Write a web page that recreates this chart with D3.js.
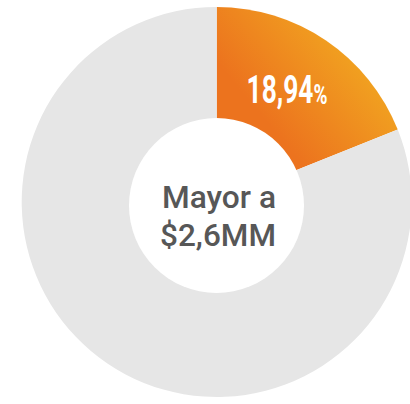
<!DOCTYPE html>
<html>
<head>
  <script src="https://d3js.org/d3.v7.min.js"></script>
  <style>
    body { margin: 0; background: #fff; }
    svg { display: block; }
    .pct { font-family: Roboto, sans-serif; font-weight: bold; fill: #fff; }
    .center { font-family: Roboto, sans-serif; font-weight: 500; fill: #575757; }
  </style>
</head>
<body>
  <script>
    // slice data
    var labels = ["Mayor a $2,6MM", "Resto"];
    var values = [18.94, 81.06];
    var centerLines = ["Mayor a", "$2,6MM"];

    var width = 410;
    var height = 404;
    var cx = 216.7, cy = 202;
    var outerR = 195;

    var svg = d3.select("body").append("svg")
        .attr("width", width)
        .attr("height", height);

    var grad = svg.append("defs").append("linearGradient")
        .attr("id", "orangeGrad")
        .attr("gradientUnits", "userSpaceOnUse")
        .attr("x1", cx + 10).attr("y1", cy - 70)
        .attr("x2", cx + 130).attr("y2", cy - 170);
    grad.append("stop").attr("offset", "0%").attr("stop-color", "#ec731e");
    grad.append("stop").attr("offset", "100%").attr("stop-color", "#f3b521");

    var pie = d3.pie().sort(null).value(function(d) { return d; });
    var arc = d3.arc().innerRadius(0).outerRadius(outerR);

    var g = svg.append("g")
        .attr("transform", "translate(" + cx + "," + cy + ")");

    g.selectAll("path")
        .data(pie(values))
      .enter()
        .append("path")
        .attr("d", arc)
        .attr("fill", function(d, i) { return i == 0 ? "url(#orangeGrad)" : "#e6e6e6"; });

    // hole of the donut
    svg.append("circle")
        .attr("cx", 216.5)
        .attr("cy", 205.5)
        .attr("r", 87.5)
        .attr("fill", "#fff");

    // percentage label, one text so the sign sits against the number
    var pct = values[0].toFixed(2).replace(".", ",");
    var pctText = svg.append("text")
        .attr("class", "pct")
        .attr("x", 246.5)
        .attr("y", 103)
        .attr("font-size", 39)
        .attr("textLength", 81)
        .attr("lengthAdjust", "spacingAndGlyphs");
    pctText.append("tspan").text(pct);
    pctText.append("tspan")
        .attr("font-size", 28)
        .attr("dy", 1)
        .text("%");

    // center label
    svg.append("text")
        .attr("class", "center")
        .attr("x", 162)
        .attr("y", 208)
        .attr("font-size", 32)
        .attr("textLength", 114)
        .attr("lengthAdjust", "spacingAndGlyphs")
        .text(centerLines[0]);
    svg.append("text")
        .attr("class", "center")
        .attr("x", 160)
        .attr("y", 246)
        .attr("font-size", 32)
        .attr("textLength", 116)
        .attr("lengthAdjust", "spacingAndGlyphs")
        .text(centerLines[1]);
  </script>
</body>
</html>
